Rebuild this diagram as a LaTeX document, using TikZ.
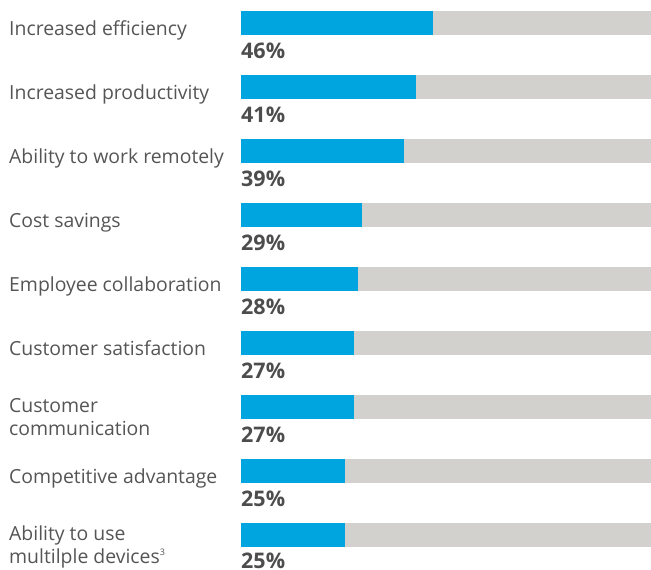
\documentclass[tikz,border=0pt]{standalone}
\usepackage{fontspec}
\setmainfont{Open Sans}
\usetikzlibrary{positioning}
\definecolor{barblue}{HTML}{00A5DF}
\definecolor{bargray}{HTML}{D3D1CD}
\definecolor{lblgray}{HTML}{555555}
\definecolor{pctgray}{HTML}{4D4D4D}

\begin{document}
\begin{tikzpicture}[x=1pt, y=-1pt,
    track/.style={fill=bargray, draw=none},
    share/.style={fill=barblue, draw=none},
    lbl/.style={anchor=base west, inner sep=0pt, text=lblgray, align=left,
                font=\fontsize{19.4}{23}\selectfont},
    pct/.style={anchor=base west, inner sep=0pt, text=pctgray,
                font=\fontsize{21.5}{24}\selectfont\bfseries}]

    \useasboundingbox (0,0) rectangle (651,570);

    % rows: index / end of blue part / percentage / label
    \foreach \i/\e/\p/\txt in {0/433/46/Increased efficiency,
                               1/416/41/Increased productivity,
                               2/404/39/Ability to work remotely,
                               3/362/29/Cost savings,
                               4/358/28/Employee collaboration,
                               5/354/27/Customer satisfaction,
                               7/345/25/Competitive advantage}
    {
        \pgfmathsetmacro{\top}{11+64*\i}
        \fill[track] (241,\top) rectangle (651,\top+24);
        \fill[share] (241,\top) rectangle (\e,\top+24);
        \node[lbl] (lbl\i) at (9,\top+24) {\txt};
        \node[pct] (pct\i) at (241,\top+47) {\p\%};
    }

    % two-line labels
    \fill[track] (241,395) rectangle (651,419);
    \fill[share] (241,395) rectangle (354,419);
    \node[lbl] (lbl6) at (9,435) {Customer\\communication};
    \node[pct] (pct6) at (241,442) {27\%};

    \fill[track] (241,523) rectangle (651,547);
    \fill[share] (241,523) rectangle (345,547);
    \node[lbl] (lbl8) at (9,563) {Ability to use\\multilple devices\textsuperscript{\fontsize{9}{9}\selectfont 3}};
    \node[pct] (pct8) at (241,568) {25\%};

\end{tikzpicture}
\end{document}
